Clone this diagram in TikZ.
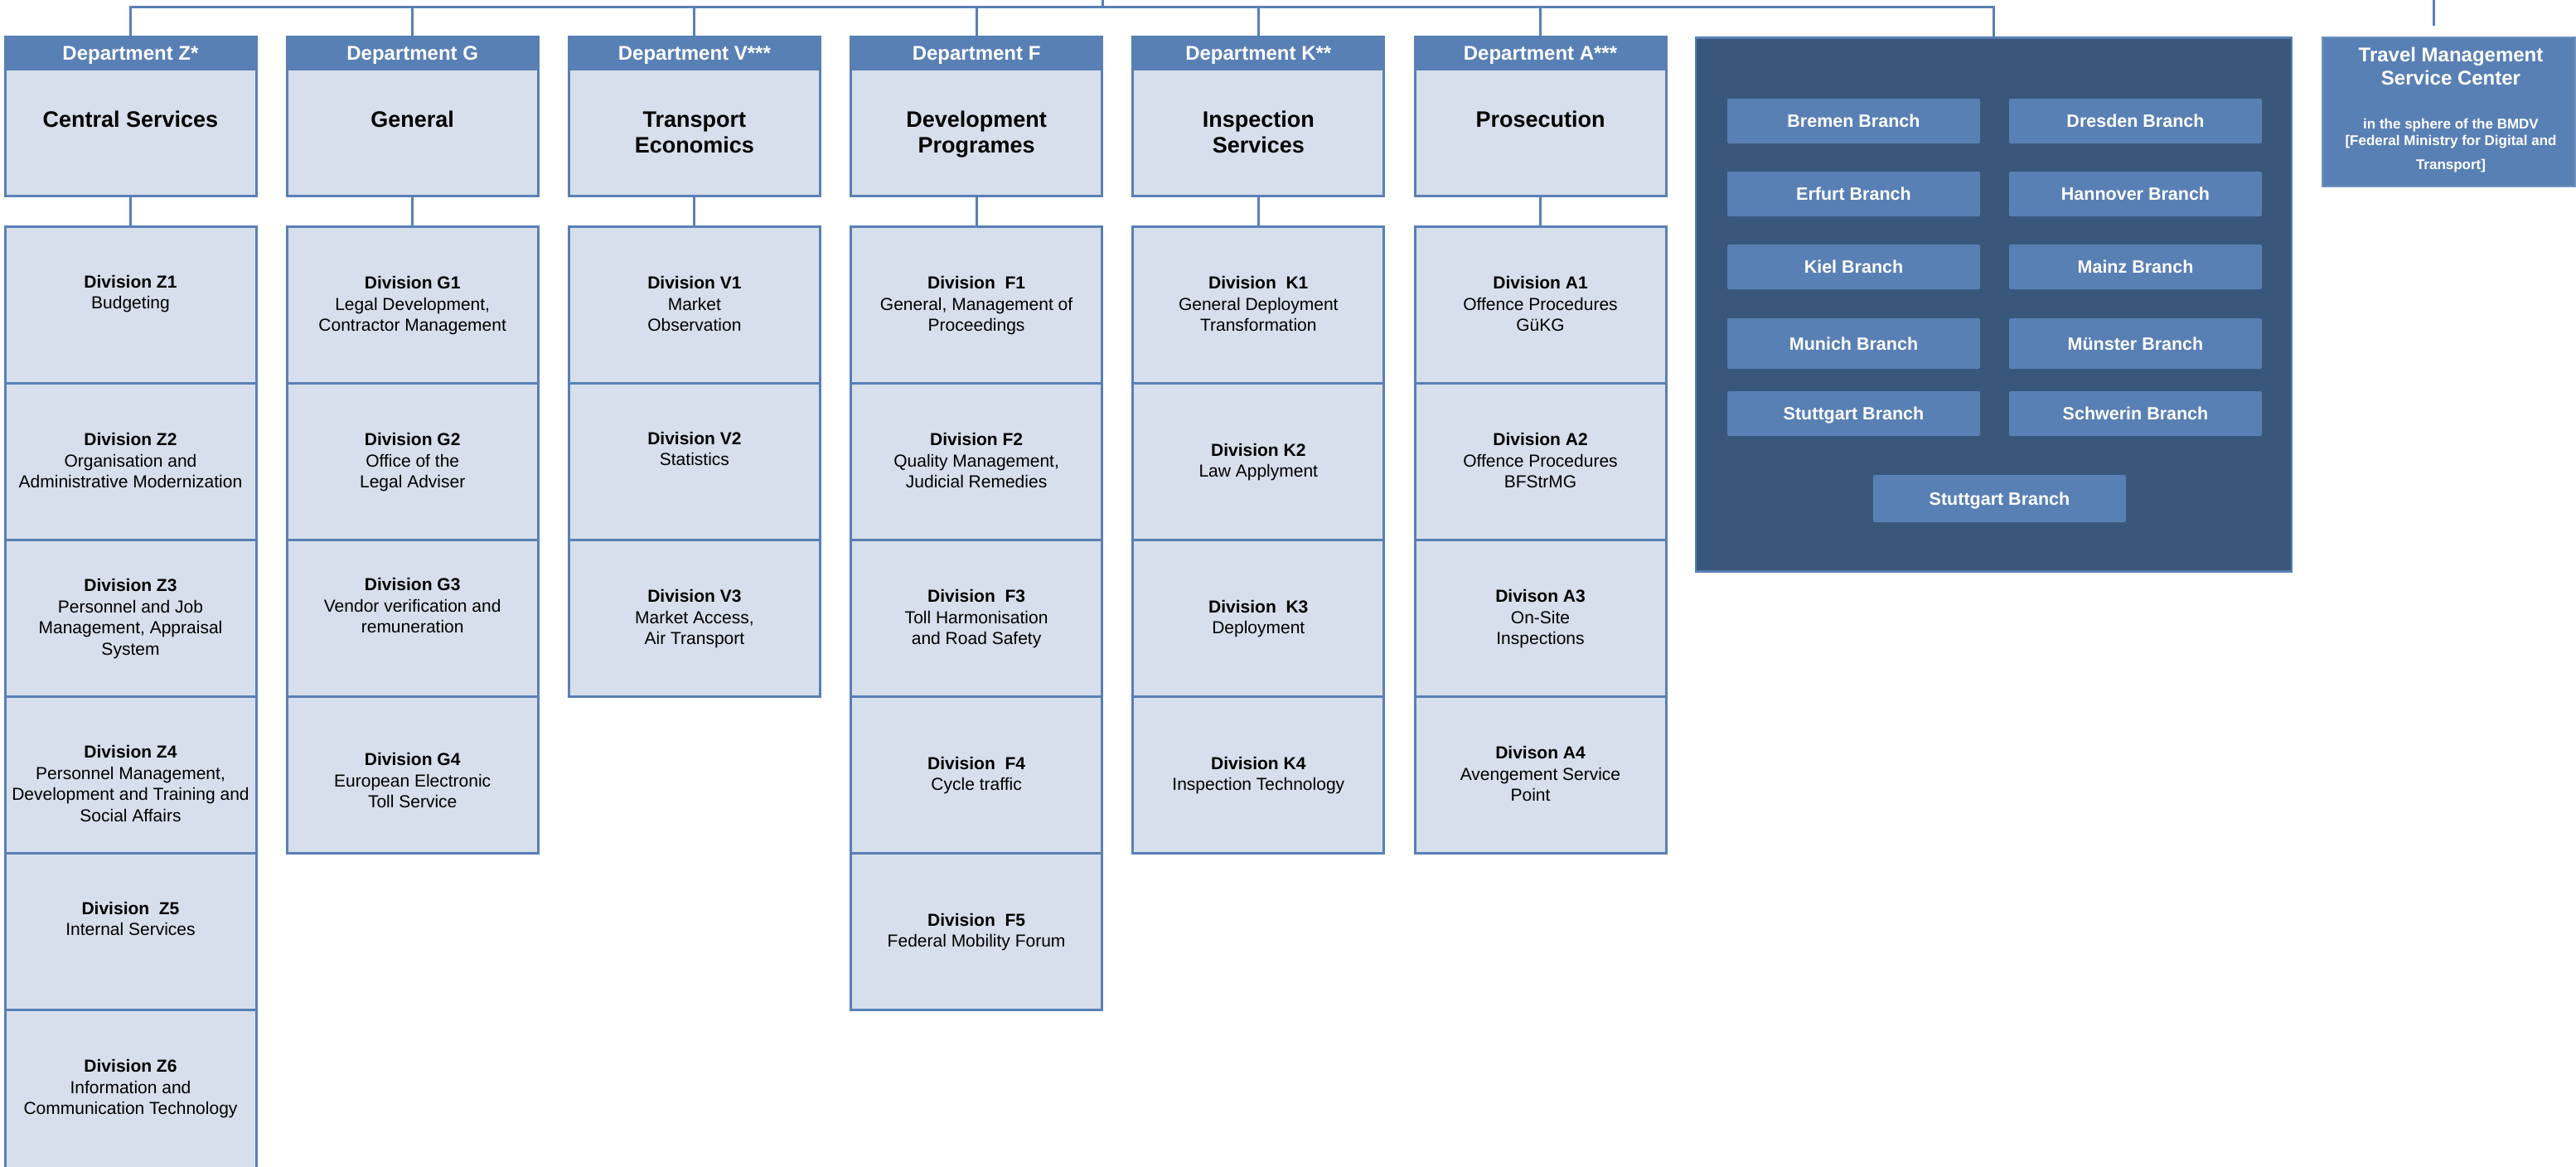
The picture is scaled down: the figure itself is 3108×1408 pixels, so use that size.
\documentclass[tikz,border=0pt]{standalone}
\usepackage{fontspec}
\setmainfont{Liberation Sans}
\usetikzlibrary{calc}
\definecolor{orgblue}{RGB}{89,128,181}
\definecolor{orglight}{RGB}{214,223,235}
\definecolor{orgdark}{RGB}{57,87,122}
% anchor=base of a multi-line node is the baseline of its last line
\newcommand\orgdiv[6]{%
  \pgfmathsetmacro\orgtop{272+189*#3}%
  \pgfmathsetmacro\orgbase{\orgtop+102+(#4-1)*12.75+#5}%
  \node[divbox] (#1) at (#2,\orgtop) {};
  \node[divtext] at (#2,\orgbase) {#6};
}
\begin{document}
\begin{tikzpicture}[x=1pt,y=-1pt,
  conn/.style={draw=orgblue,line width=3pt},
  dbody/.style={draw=orgblue,fill=orglight,line width=3pt,minimum width=303pt,minimum height=191pt,inner sep=0pt,anchor=north},
  dhead/.style={draw=orgblue,fill=orgblue,line width=3pt,minimum width=303pt,minimum height=39pt,inner sep=0pt,text height=17.2pt,text depth=0pt,text=white,font=\fontsize{24}{28}\selectfont\bfseries},
  dtitle/.style={anchor=base,align=center,inner sep=0pt,font=\fontsize{27}{31}\selectfont\bfseries},
  divbox/.style={draw=orgblue,fill=orglight,line width=3pt,minimum width=303pt,minimum height=189pt,inner sep=0pt,anchor=north},
  divtext/.style={anchor=base,align=center,inner sep=0pt,font=\fontsize{21}{25.5}\selectfont},
  branch/.style={fill=orgblue,rounded corners=2pt,minimum width=305pt,minimum height=54pt,inner sep=0pt,text height=15.4pt,text depth=0pt,text=white,font=\fontsize{21.5}{24}\selectfont\bfseries},
]
\useasboundingbox (0,0) rectangle (3108,1408);
\clip (0,0) rectangle (3108,1408);

% ---------- departments ----------
\node[dbody] (Z) at (157.5,44) {};
\node[dhead] (Zh) at (157.5,63.5) {Department Z*};
\node[dtitle] at (157.5,153) {Central Services};

\node[dbody] (G) at (497.7,44) {};
\node[dhead] (Gh) at (497.7,63.5) {Department G};
\node[dtitle] at (497.7,153) {General};

\node[dbody] (V) at (837.9,44) {};
\node[dhead] (Vh) at (837.9,63.5) {Department V***};
\node[dtitle] at (837.9,184) {Transport\\Economics};

\node[dbody] (F) at (1178.1,44) {};
\node[dhead] (Fh) at (1178.1,63.5) {Department F};
\node[dtitle] at (1178.1,184) {Development\\Programes};

\node[dbody] (K) at (1518.3,44) {};
\node[dhead] (Kh) at (1518.3,63.5) {Department K**};
\node[dtitle] at (1518.3,184) {Inspection\\Services};

\node[dbody] (A) at (1858.5,44) {};
\node[dhead] (Ah) at (1858.5,63.5) {Department A***};
\node[dtitle] at (1858.5,153) {Prosecution};

% ---------- divisions Z ----------
\orgdiv{z1}{157.5}{0}{2}{-14}{\textbf{Division Z1}\\Budgeting}
\orgdiv{z2}{157.5}{1}{3}{0}{\textbf{Division Z2}\\Organisation and\\Administrative Modernization}
\orgdiv{z3}{157.5}{2}{4}{0}{\textbf{Division Z3}\\Personnel and Job\\Management, Appraisal\\System}
\orgdiv{z4}{157.5}{3}{4}{12}{\textbf{Division Z4}\\Personnel Management,\\Development and Training and\\Social Affairs}
\orgdiv{z5}{157.5}{4}{2}{-14}{\textbf{Division~ Z5}\\Internal Services}
\node[divbox,minimum height=215pt] (z6) at (157.5,1217) {};
\node[divtext] at (157.5,1344.5) {\textbf{Division Z6}\\Information and\\Communication Technology};

% ---------- divisions G ----------
\orgdiv{g1}{497.7}{0}{3}{0}{\textbf{Division G1}\\Legal Development,\\Contractor Management}
\orgdiv{g2}{497.7}{1}{3}{0}{\textbf{Division G2}\\Office of the\\Legal Adviser}
\orgdiv{g3}{497.7}{2}{3}{-14}{\textbf{Division G3}\\Vendor verification and\\remuneration}
\orgdiv{g4}{497.7}{3}{3}{8}{\textbf{Division G4}\\European Electronic\\Toll Service}

% ---------- divisions V ----------
\orgdiv{v1}{837.9}{0}{3}{0}{\textbf{Division V1}\\Market\\Observation}
\orgdiv{v2}{837.9}{1}{2}{-14}{\textbf{Division V2}\\Statistics}
\orgdiv{v3}{837.9}{2}{3}{0}{\textbf{Division V3}\\Market Access,\\Air Transport}

% ---------- divisions F ----------
\orgdiv{f1}{1178.1}{0}{3}{0}{\textbf{Division~ F1}\\General, Management of\\Proceedings}
\orgdiv{f2}{1178.1}{1}{3}{0}{\textbf{Division F2}\\Quality Management,\\Judicial Remedies}
\orgdiv{f3}{1178.1}{2}{3}{0}{\textbf{Division~ F3}\\Toll Harmonisation\\and Road Safety}
\orgdiv{f4}{1178.1}{3}{2}{0}{\textbf{Division~ F4}\\Cycle traffic}
\orgdiv{f5}{1178.1}{4}{2}{0}{\textbf{Division~ F5}\\Federal Mobility Forum}

% ---------- divisions K ----------
\orgdiv{k1}{1518.3}{0}{3}{0}{\textbf{Division~ K1}\\General Deployment\\Transformation}
\orgdiv{k2}{1518.3}{1}{2}{0}{\textbf{Division K2}\\Law Applyment}
\orgdiv{k3}{1518.3}{2}{2}{0}{\textbf{Division~ K3}\\Deployment}
\orgdiv{k4}{1518.3}{3}{2}{0}{\textbf{Division K4}\\Inspection Technology}

% ---------- divisions A ----------
\orgdiv{a1}{1858.5}{0}{3}{0}{\textbf{Division A1}\\Offence Procedures\\GüKG}
\orgdiv{a2}{1858.5}{1}{3}{0}{\textbf{Division A2}\\Offence Procedures\\BFStrMG}
\orgdiv{a3}{1858.5}{2}{3}{0}{\textbf{Divison A3}\\On-Site\\Inspections}
\orgdiv{a4}{1858.5}{3}{3}{0}{\textbf{Divison A4}\\Avengement Service\hspace*{44pt}\\Point\hspace*{24pt}}

% ---------- branches ----------
\node[fill=orgdark,draw=orgblue,line width=2.5pt,minimum width=719pt,minimum height=644pt,anchor=north] (dark) at (2405.5,44) {};
\node[branch] (bremen) at (2236.5,146) {Bremen Branch};
\node[branch] (dresden) at (2576.5,146) {Dresden Branch};
\node[branch] (erfurt) at (2236.5,234) {Erfurt Branch};
\node[branch] (hannover) at (2576.5,234) {Hannover Branch};
\node[branch] (kiel) at (2236.5,322) {Kiel Branch};
\node[branch] (mainz) at (2576.5,322) {Mainz Branch};
\node[branch,minimum height=61pt] (munich) at (2236.5,414.5) {Munich Branch};
\node[branch,minimum height=61pt] (muenster) at (2576.5,414.5) {Münster Branch};
\node[branch] (stuttgart) at (2236.5,499) {Stuttgart Branch};
\node[branch] (schwerin) at (2576.5,499) {Schwerin Branch};
\node[branch,minimum height=57pt] (stuttgartb) at (2412.5,601.5) {Stuttgart Branch};

% ---------- travel management ----------
\node[fill=orgblue,draw=orgblue!85!white,line width=1.5pt,minimum width=305pt,minimum height=180pt,anchor=north] (tv) at (2954.5,44) {};
\node[anchor=base,align=center,inner sep=0pt,text=white,font=\fontsize{24}{28}\selectfont\bfseries] at (2957,102) {Travel Management\\Service Center};
\node[anchor=base,align=center,inner sep=0pt,text=white,font=\fontsize{17}{20}\selectfont\bfseries] at (2957,204) {in the sphere of the BMDV\\{[}Federal Ministry for Digital and\\[9pt]Transport]};

% ---------- connectors ----------
\coordinate (busR) at (2405.5,8);
\coordinate (topin) at (1330,0);
\coordinate (tvin) at (2936,0);
\coordinate (tvend) at (2936,31);
\draw[conn] (Zh.north) |- (busR) -- (dark.north);
\foreach \d in {Gh,Vh,Fh,Kh,Ah}{\draw[conn] (\d.north) -- (\d.north |- busR);}
\draw[conn] (topin) -- (topin |- busR);
\draw[conn] (tvin) -- (tvend);
\draw[conn] (Z.south) -- (z1.north);
\draw[conn] (G.south) -- (g1.north);
\draw[conn] (V.south) -- (v1.north);
\draw[conn] (F.south) -- (f1.north);
\draw[conn] (K.south) -- (k1.north);
\draw[conn] (A.south) -- (a1.north);
\end{tikzpicture}
\end{document}
